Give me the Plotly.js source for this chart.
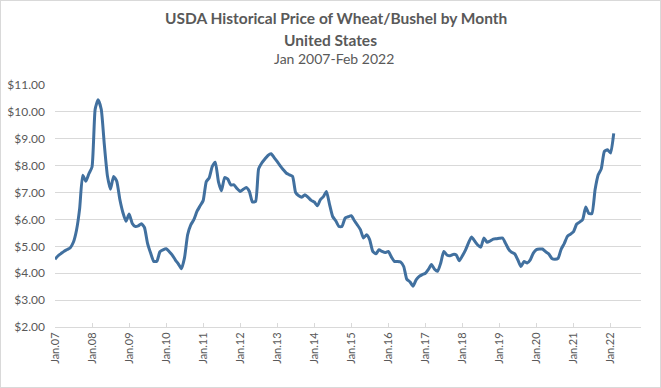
<!DOCTYPE html>
<html>
<head>
<meta charset="utf-8">
<script src="https://cdn.plot.ly/plotly-3.0.1.min.js"></script>
<style>
  html, body { margin: 0; padding: 0; background: #ffffff; }
  #wrap { position: relative; width: 661px; height: 388px; }
  #chart { width: 661px; height: 388px; }
  #frame { position: absolute; left: 0; top: 0; width: 659px; height: 386px; border: 1px solid #d9d9d9; pointer-events: none; }
</style>
</head>
<body>
<div id="wrap"><div id="chart"></div><div id="frame"></div></div>
<script>
// Monthly USDA price received for wheat, $/bushel
const years = [2007, 2008, 2009, 2010, 2011, 2012, 2013, 2014, 2015, 2016, 2017, 2018, 2019, 2020, 2021, 2022];
const price2007 = [4.52, 4.65, 4.73, 4.82, 4.88, 4.95, 5.15, 5.60, 6.40, 7.64, 7.42, 7.70];
const price2008 = [7.95, 10.10, 10.45, 10.10, 8.80, 7.62, 7.12, 7.60, 7.42, 6.75, 6.25, 5.93];
const price2009 = [6.20, 5.85, 5.74, 5.76, 5.84, 5.70, 5.12, 4.75, 4.44, 4.44, 4.80, 4.87];
const price2010 = [4.91, 4.80, 4.68, 4.50, 4.35, 4.17, 4.57, 5.43, 5.80, 5.99, 6.30, 6.50];
const price2011 = [6.70, 7.41, 7.54, 7.97, 8.13, 7.40, 7.07, 7.56, 7.50, 7.28, 7.29, 7.15];
const price2012 = [7.04, 7.12, 7.19, 7.04, 6.65, 6.67, 7.88, 8.10, 8.25, 8.38, 8.44, 8.30];
const price2013 = [8.15, 7.98, 7.85, 7.72, 7.66, 7.60, 7.00, 6.88, 6.83, 6.92, 6.82, 6.71];
const price2014 = [6.65, 6.51, 6.73, 6.85, 7.04, 6.55, 6.11, 5.95, 5.74, 5.74, 6.05, 6.10];
const price2015 = [6.14, 5.95, 5.80, 5.62, 5.31, 5.43, 5.25, 4.81, 4.72, 4.87, 4.81, 4.77];
const price2016 = [4.81, 4.60, 4.44, 4.44, 4.42, 4.25, 3.78, 3.68, 3.52, 3.75, 3.88, 3.95];
const price2017 = [4.00, 4.15, 4.32, 4.15, 4.07, 4.38, 4.81, 4.68, 4.65, 4.70, 4.68, 4.46];
const price2018 = [4.65, 4.87, 5.12, 5.35, 5.20, 5.05, 4.97, 5.31, 5.15, 5.20, 5.27, 5.28];
const price2019 = [5.30, 5.31, 5.12, 4.90, 4.78, 4.72, 4.50, 4.25, 4.44, 4.38, 4.50, 4.75];
const price2020 = [4.88, 4.90, 4.90, 4.80, 4.72, 4.55, 4.52, 4.55, 4.90, 5.10, 5.37, 5.45];
const price2021 = [5.55, 5.83, 5.90, 6.00, 6.46, 6.22, 6.22, 7.10, 7.66, 7.88, 8.53, 8.59];
const price2022 = [8.47, 9.20];

const yearly = [price2007, price2008, price2009, price2010, price2011, price2012, price2013, price2014,
                price2015, price2016, price2017, price2018, price2019, price2020, price2021, price2022];

const xDates = [];
const yPrices = [];
yearly.forEach(function (arr, i) {
  arr.forEach(function (v, m) {
    xDates.push(years[i] + '-' + String(m + 1).padStart(2, '0') + '-01');
    yPrices.push(v);
  });
});

const textColor = '#595959';
const gridColor = '#d9d9d9';
const fontFam = 'Lato, "Open Sans", sans-serif';

const trace = {
  type: 'scatter',
  mode: 'lines',
  x: xDates,
  y: yPrices,
  line: { color: '#41709f', width: 3, shape: 'spline', smoothing: 0.5 },
  cliponaxis: false,
  hoverinfo: 'skip'
};

const layout = {
  width: 661,
  height: 388,
  margin: { l: 55, r: 20, t: 85, b: 61 },
  paper_bgcolor: '#ffffff',
  plot_bgcolor: '#ffffff',
  showlegend: false,
  font: { family: fontFam, color: textColor },
  xaxis: {
    type: 'date',
    range: ['2007-01-01', '2022-10-28'],
    tick0: '2007-01-01',
    dtick: 'M12',
    tickformat: '%b.%y',
    tickangle: -90,
    tickfont: { family: fontFam, size: 11, color: textColor },
    showgrid: false,
    showline: true,
    linecolor: gridColor,
    linewidth: 1,
    ticks: 'inside',
    ticklen: 4,
    tickcolor: gridColor,
    zeroline: false,
    fixedrange: true
  },
  yaxis: {
    range: [2, 11],
    dtick: 1,
    tick0: 2,
    tickprefix: '$',
    tickformat: '.2f',
    tickfont: { family: fontFam, size: 12, color: textColor },
    ticklabelstandoff: 9,
    showgrid: true,
    gridcolor: gridColor,
    gridwidth: 1,
    showline: false,
    zeroline: false,
    ticks: '',
    fixedrange: true
  },
  annotations: [
    { text: '<b>USDA Historical Price of Wheat/Bushel by Month</b>', xref: 'paper', yref: 'paper',
      x: 0.4787, y: 1 + (85 - 18) / 242, xanchor: 'center', yanchor: 'middle', showarrow: false,
      font: { family: fontFam, size: 15.5, color: textColor } },
    { text: '<b>United States</b>', xref: 'paper', yref: 'paper',
      x: 0.4700, y: 1 + (85 - 40) / 242, xanchor: 'center', yanchor: 'middle', showarrow: false,
      font: { family: fontFam, size: 15.5, color: textColor } },
    { text: 'Jan 2007-Feb 2022', xref: 'paper', yref: 'paper',
      x: 0.4760, y: 1 + (85 - 59) / 242, xanchor: 'center', yanchor: 'middle', showarrow: false,
      font: { family: fontFam, size: 14, color: textColor } }
  ]
};

Plotly.newPlot('chart', [trace], layout, { displayModeBar: false, staticPlot: true });
</script>
</body>
</html>
